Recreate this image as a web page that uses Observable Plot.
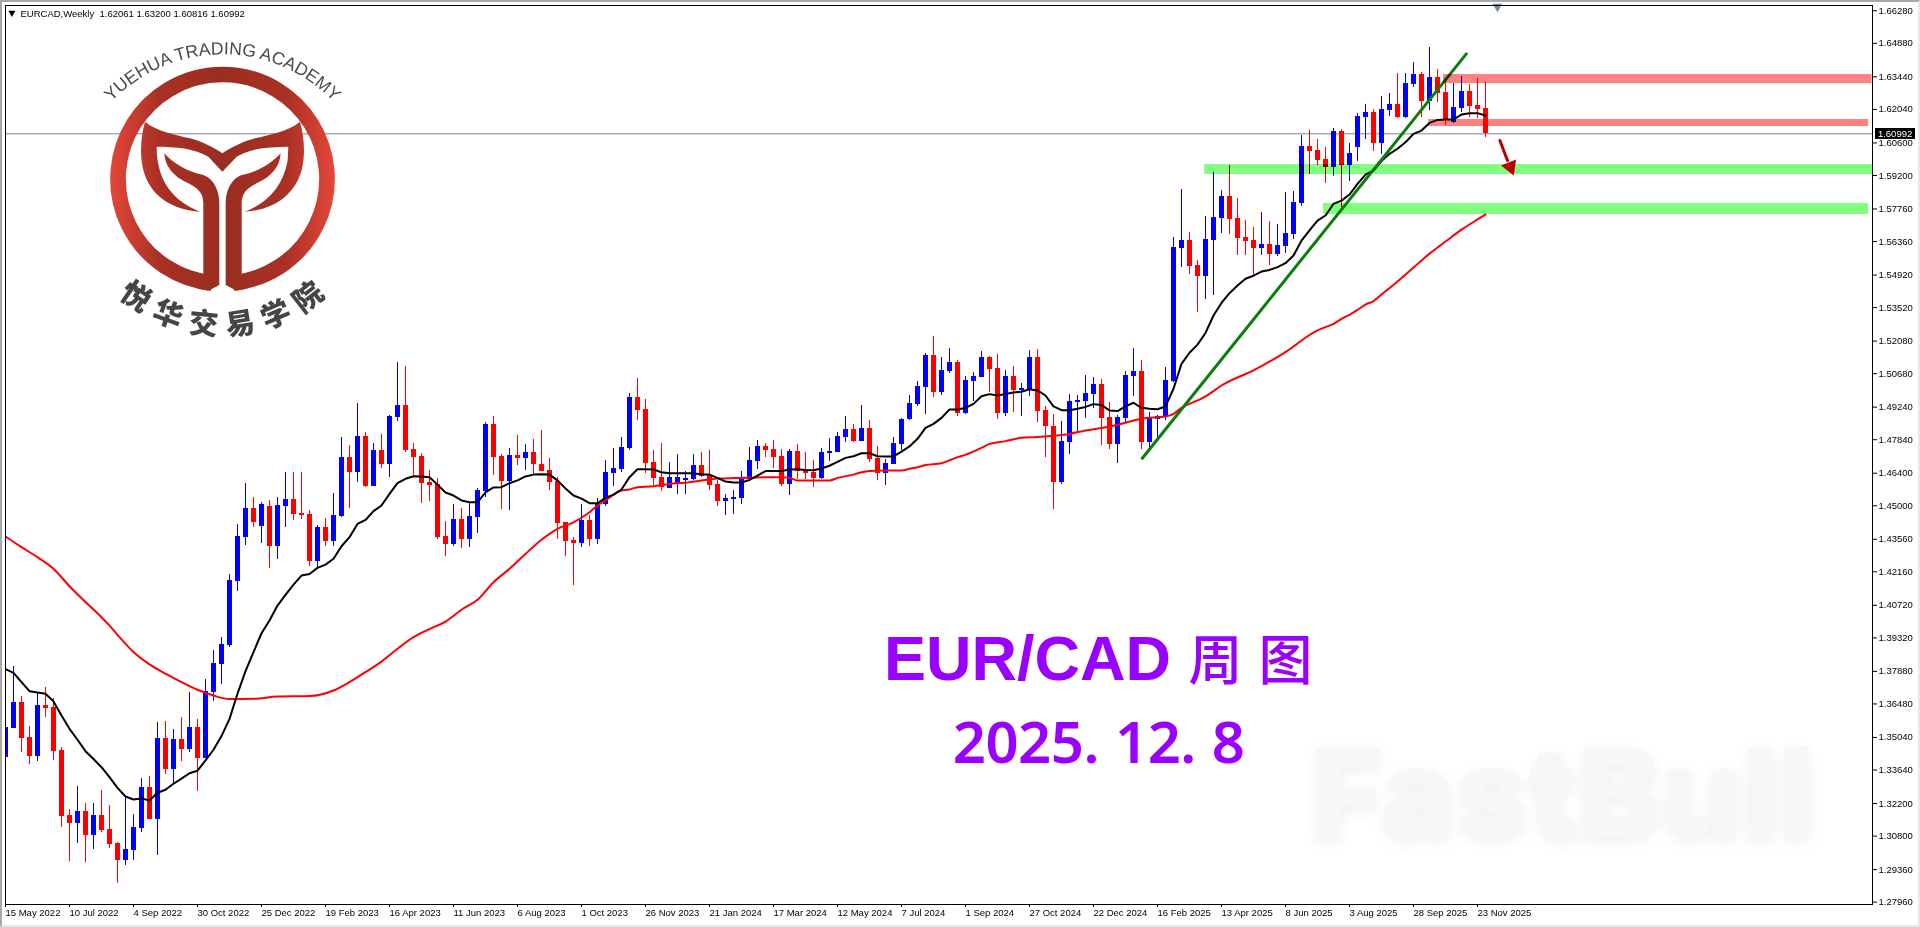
<!DOCTYPE html>
<html>
<head>
<meta charset="utf-8">
<script src="https://cdn.jsdelivr.net/npm/d3@7"></script>
<script src="https://cdn.jsdelivr.net/npm/@observablehq/plot@0.6"></script>
<style>
html,body{margin:0;padding:0;background:#fff;overflow:hidden}
#chart{position:relative;width:1920px;height:927px}
#chart svg{display:block}
#edge{position:absolute;left:0;top:0;width:1920px;height:927px;box-sizing:border-box;pointer-events:none;border-top:2px solid #a8a8a8;border-left:2px solid #a8a8a8;border-right:2px solid #e8e8e8;border-bottom:2px solid #e8e8e8}
</style>
</head>
<body>
<div id="chart"><div id="edge"></div></div>
<script>
const opens=[1.3419,1.3544,1.3654,1.3504,1.3424,1.3641,1.3633,1.3448,1.3168,1.3136,
1.3186,1.3084,1.3168,1.3108,1.3048,1.2976,1.3019,1.3114,1.3289,1.3153,
1.3500,1.3368,1.3495,1.3454,1.3547,1.3415,1.3699,1.3819,1.3899,1.4176,
1.4365,1.4488,1.4412,1.4497,1.4326,1.4498,1.4527,1.4467,1.4462,1.4262,
1.4407,1.4348,1.4454,1.4707,1.4644,1.4798,1.4584,1.4738,1.4679,1.4881,
1.4931,1.4742,1.4712,1.4600,1.4591,1.4368,1.4335,1.4441,1.4356,1.4451,
1.4561,1.4849,1.4712,1.4604,1.4716,1.4705,1.4729,1.4677,1.4652,1.4604,
1.4428,1.4351,1.4339,1.4437,1.4356,1.4505,1.4640,1.4657,1.4746,1.4965,
1.4914,1.4686,1.4622,1.4576,1.4594,1.4609,1.4613,1.4673,1.4630,1.4591,
1.4518,1.4527,1.4531,1.4613,1.4692,1.4755,1.4742,1.4712,1.4591,1.4733,
1.4647,1.4644,1.4617,1.4725,1.4729,1.4794,1.4828,1.4776,1.4832,1.4703,
1.4639,1.4677,1.4763,1.4871,1.4935,1.5008,1.5146,1.4987,1.5077,1.5116,
1.4897,1.5034,1.5051,1.5137,1.5090,1.4897,1.5056,1.4996,1.4996,1.5137,
1.4910,1.4841,1.4600,1.4772,1.4944,1.4948,1.4978,1.5021,1.4879,1.4763,
1.4875,1.5056,1.5077,1.4772,1.4871,1.4879,1.5034,1.5606,1.5640,1.5533,
1.5486,1.5640,1.5735,1.5830,1.5735,1.5653,1.5640,1.5606,1.5623,1.5580,
1.5614,1.5666,1.5800,1.6045,1.6027,1.5989,1.5954,1.6109,1.5963,1.6040,
1.6169,1.6191,1.6058,1.6199,1.6225,1.6169,1.6311,1.6354,1.6238,1.6341,
1.6277,1.6149,1.6208,1.6281,1.6221,1.62061];
const highs=[1.3591,1.3809,1.3680,1.3551,1.3694,1.3719,1.3670,1.3461,1.3194,1.3293,
1.3220,1.3220,1.3276,1.3211,1.3052,1.3247,1.3173,1.3328,1.3336,1.3568,
1.3573,1.3538,1.3590,1.3697,1.3581,1.3753,1.3878,1.3934,1.4204,1.4419,
1.4596,1.4535,1.4514,1.4523,1.4535,1.4643,1.4643,1.4643,1.4480,1.4415,
1.4447,1.4553,1.4793,1.4759,1.4940,1.4815,1.4768,1.4806,1.4888,1.5116,
1.5099,1.4768,1.4725,1.4652,1.4617,1.4432,1.4505,1.4488,1.4511,1.4574,
1.4858,1.4884,1.4720,1.4746,1.4802,1.4763,1.4785,1.4824,1.4703,1.4622,
1.4429,1.4364,1.4505,1.4458,1.4531,1.4695,1.4746,1.4794,1.4983,1.5047,
1.4957,1.4738,1.4768,1.4686,1.4720,1.4647,1.4720,1.4729,1.4738,1.4609,
1.4548,1.4566,1.4647,1.4751,1.4781,1.4768,1.4781,1.4742,1.4742,1.4763,
1.4729,1.4695,1.4746,1.4789,1.4815,1.4884,1.4849,1.4931,1.4867,1.4755,
1.4699,1.4794,1.4875,1.4974,1.5034,1.5155,1.5228,1.5137,1.5176,1.5125,
1.5056,1.5073,1.5163,1.5142,1.5150,1.5082,1.5099,1.5026,1.5168,1.5172,
1.4927,1.4892,1.4862,1.4978,1.4974,1.5060,1.5051,1.5043,1.4944,1.4888,
1.5077,1.5176,1.5125,1.4901,1.4890,1.5094,1.5653,1.5860,1.5675,1.5554,
1.5744,1.5933,1.5855,1.5963,1.5821,1.5726,1.5696,1.5761,1.5722,1.5709,
1.5847,1.5851,1.6092,1.6113,1.6075,1.6040,1.6122,1.6118,1.6058,1.6187,
1.6225,1.6204,1.6260,1.6272,1.6358,1.6358,1.6406,1.6363,1.6470,1.6376,
1.6328,1.6315,1.6346,1.6311,1.6337,1.63200];
const lows=[1.3391,1.3544,1.3441,1.3389,1.3402,1.3591,1.3405,1.3118,1.2972,1.3050,
1.2968,1.3022,1.3095,1.3027,1.2878,1.2955,1.2976,1.3097,1.3153,1.2998,
1.3346,1.3305,1.3402,1.3441,1.3273,1.3415,1.3660,1.3733,1.3892,1.4133,
1.4331,1.4408,1.4339,1.4230,1.4270,1.4408,1.4437,1.4441,1.4240,1.4236,
1.4326,1.4326,1.4451,1.4490,1.4601,1.4579,1.4584,1.4662,1.4623,1.4864,
1.4730,1.4630,1.4511,1.4520,1.4356,1.4283,1.4326,1.4318,1.4322,1.4382,
1.4537,1.4630,1.4485,1.4480,1.4673,1.4652,1.4636,1.4647,1.4566,1.4355,
1.4283,1.4159,1.4322,1.4326,1.4335,1.4498,1.4584,1.4644,1.4738,1.4867,
1.4639,1.4587,1.4561,1.4576,1.4548,1.4548,1.4609,1.4623,1.4566,1.4497,
1.4458,1.4462,1.4505,1.4613,1.4656,1.4708,1.4660,1.4583,1.4544,1.4613,
1.4613,1.4579,1.4613,1.4690,1.4729,1.4772,1.4772,1.4776,1.4686,1.4609,
1.4587,1.4677,1.4738,1.4867,1.4927,1.4892,1.4965,1.4974,1.5070,1.4884,
1.4892,1.4948,1.5051,1.4987,1.4871,1.4884,1.4901,1.4884,1.4970,1.4858,
1.4708,1.4484,1.4591,1.4720,1.4819,1.4875,1.4918,1.4759,1.4742,1.4682,
1.4858,1.4970,1.4742,1.4746,1.4795,1.4867,1.5030,1.5524,1.5494,1.5331,
1.5387,1.5404,1.5671,1.5666,1.5576,1.5576,1.5490,1.5576,1.5533,1.5572,
1.5585,1.5645,1.5787,1.5924,1.5963,1.5886,1.5916,1.5784,1.5894,1.5980,
1.6075,1.6023,1.6010,1.6174,1.6165,1.6165,1.6298,1.6169,1.6199,1.6234,
1.6135,1.6145,1.6191,1.6169,1.6165,1.60816];
const closes=[1.3545,1.3654,1.3501,1.3424,1.3641,1.3630,1.3445,1.3166,1.3136,1.3186,
1.3084,1.3168,1.3105,1.3045,1.2976,1.3022,1.3117,1.3289,1.3153,1.3500,
1.3368,1.3495,1.3454,1.3547,1.3415,1.3700,1.3822,1.3904,1.4179,1.4368,
1.4488,1.4429,1.4505,1.4326,1.4501,1.4527,1.4464,1.4458,1.4262,1.4407,
1.4348,1.4458,1.4707,1.4644,1.4798,1.4583,1.4738,1.4679,1.4884,1.4931,
1.4739,1.4709,1.4597,1.4589,1.4365,1.4335,1.4441,1.4356,1.4454,1.4566,
1.4849,1.4709,1.4606,1.4716,1.4705,1.4729,1.4679,1.4647,1.4600,1.4425,
1.4348,1.4339,1.4437,1.4356,1.4508,1.4643,1.4660,1.4751,1.4965,1.4911,
1.4682,1.4619,1.4580,1.4622,1.4622,1.4617,1.4673,1.4627,1.4589,1.4518,
1.4531,1.4536,1.4613,1.4695,1.4755,1.4738,1.4708,1.4591,1.4733,1.4649,
1.4639,1.4617,1.4729,1.4733,1.4798,1.4828,1.4776,1.4832,1.4699,1.4639,
1.4682,1.4768,1.4871,1.4940,1.5013,1.5146,1.4987,1.5082,1.5116,1.4897,
1.5039,1.5056,1.5137,1.5086,1.4897,1.5056,1.4996,1.5004,1.5137,1.4905,
1.4841,1.4600,1.4776,1.4948,1.4953,1.4983,1.5021,1.4875,1.4763,1.4879,
1.5060,1.5077,1.4772,1.4875,1.4884,1.5039,1.5610,1.5640,1.5530,1.5486,
1.5645,1.5739,1.5830,1.5731,1.5649,1.5636,1.5606,1.5623,1.5580,1.5619,
1.5671,1.5804,1.6045,1.6023,1.5984,1.5954,1.6109,1.5963,1.6015,1.6174,
1.6191,1.6058,1.6204,1.6225,1.6169,1.6315,1.6354,1.6238,1.6341,1.6272,
1.6162,1.6212,1.6281,1.6217,1.6204,1.60992];
const fastMA=[1.3798,1.3782,1.3742,1.3703,1.3697,1.3692,1.3659,1.3598,1.3541,1.3494,
1.3445,1.3411,1.3376,1.3333,1.3287,1.3250,1.3237,1.3242,1.3233,1.3266,
1.3279,1.3305,1.3327,1.3350,1.3361,1.3405,1.3451,1.3510,1.3584,1.3692,
1.3789,1.3871,1.3952,1.4007,1.4071,1.4117,1.4161,1.4200,1.4207,1.4233,
1.4247,1.4272,1.4326,1.4365,1.4422,1.4439,1.4477,1.4501,1.4551,1.4597,
1.4616,1.4627,1.4626,1.4623,1.4591,1.4557,1.4544,1.4523,1.4515,1.4515,
1.4558,1.4579,1.4580,1.4597,1.4609,1.4626,1.4634,1.4636,1.4634,1.4609,
1.4574,1.4544,1.4531,1.4511,1.4511,1.4534,1.4548,1.4570,1.4623,1.4657,
1.4657,1.4656,1.4644,1.4640,1.4640,1.4640,1.4640,1.4634,1.4634,1.4620,
1.4604,1.4600,1.4600,1.4611,1.4630,1.4649,1.4649,1.4649,1.4656,1.4657,
1.4654,1.4653,1.4660,1.4672,1.4689,1.4706,1.4713,1.4726,1.4726,1.4713,
1.4712,1.4712,1.4733,1.4755,1.4788,1.4835,1.4852,1.4878,1.4914,1.4914,
1.4921,1.4938,1.4971,1.4980,1.4974,1.4981,1.4987,1.4990,1.5001,1.4996,
1.4974,1.4927,1.4911,1.4911,1.4917,1.4925,1.4937,1.4933,1.4910,1.4907,
1.4927,1.4943,1.4921,1.4917,1.4915,1.4927,1.5003,1.5110,1.5158,1.5193,
1.5243,1.5318,1.5372,1.5414,1.5447,1.5476,1.5489,1.5507,1.5514,1.5526,
1.5543,1.5576,1.5640,1.5684,1.5726,1.5748,1.5798,1.5812,1.5838,1.5884,
1.5924,1.5941,1.5982,1.6013,1.6035,1.6063,1.6099,1.6113,1.6146,1.6159,
1.6161,1.6161,1.6182,1.6188,1.6188,1.6178];
const slowMABars=[0,2,4,6,8,10,12,13,14,16,18,20,22,24,26,28,31,34,38,41,43,45,47,49,51,53,55,57,59,61,63,65,67,69,71,73,74,75,77,78,79,81,83,85,87,89,91,93,95,97,98,99,101,103,104,106,107,108,110,112,113,114,115,117,118,119,120,122,123,125,127,129,131,133,135,137,139,141,142,144,145,146,147,149,150,151,152,156,160,164,165,166,167,168,169,170,171,172,174,176,178,180,182,184,185];
const slowMA=[1.4368,1.4322,1.4279,1.4229,1.4154,1.4086,1.4021,1.3985,1.3945,1.3871,1.3818,1.3778,1.3742,1.3709,1.3684,1.3669,1.3670,1.3680,1.3682,1.3706,1.3742,1.3785,1.3830,1.3885,1.3935,1.3970,1.4002,1.4053,1.4096,1.4171,1.4229,1.4293,1.4354,1.4401,1.4429,1.4472,1.4501,1.4523,1.4566,1.4570,1.4580,1.4584,1.4594,1.4599,1.4609,1.4617,1.4619,1.4620,1.4623,1.4623,1.4620,1.4609,1.4609,1.4609,1.4620,1.4634,1.4644,1.4650,1.4652,1.4652,1.4659,1.4666,1.4675,1.4683,1.4695,1.4709,1.4719,1.4749,1.4766,1.4778,1.4792,1.4796,1.4801,1.4809,1.4824,1.4834,1.4848,1.4867,1.4874,1.4881,1.4884,1.4895,1.4921,1.4953,1.4970,1.4993,1.5017,1.5082,1.5161,1.5254,1.5268,1.5282,1.5304,1.5321,1.5342,1.5365,1.5380,1.5408,1.5464,1.5524,1.5584,1.5636,1.5687,1.5731,1.5752];
const priceTicks=[1.6628,1.6488,1.6344,1.6204,1.6060,1.5920,1.5776,1.5636,1.5492,1.5352,1.5208,1.5068,1.4924,1.4784,1.4640,1.4500,1.4356,1.4216,1.4072,1.3932,1.3788,1.3648,1.3504,1.3364,1.3220,1.3080,1.2936,1.2796];
const dateLabels=["15 May 2022","10 Jul 2022","4 Sep 2022","30 Oct 2022","25 Dec 2022","19 Feb 2023","16 Apr 2023","11 Jun 2023","6 Aug 2023","1 Oct 2023","26 Nov 2023","21 Jan 2024","17 Mar 2024","12 May 2024","7 Jul 2024","1 Sep 2024","27 Oct 2024","22 Dec 2024","16 Feb 2025","13 Apr 2025","8 Jun 2025","3 Aug 2025","28 Sep 2025","23 Nov 2025"];
const lastClose=1.60992;
const header="EURCAD,Weekly  1.62061 1.63200 1.60816 1.60992";
const zones=[
 {b0:179.75,b1:233.3,p0:1.6354,p1:1.63155,c:"#ff8080"},
 {b0:177.9,b1:232.9,p0:1.61607,p1:1.61306,c:"#ff8080"},
 {b0:149.9,b1:233.375,p0:1.59672,p1:1.59242,c:"#80ff80"},
 {b0:164.75,b1:232.9,p0:1.57995,p1:1.57522,c:"#80ff80"}
];
const trendBars=[142.1,182.6], trendPrices=[1.47045,1.6443];
const arrowBars=[186.8,187.75], arrowPrices=[1.60704,1.59844];

const bars=opens.map((o,i)=>({i,o,h:highs[i],l:lows[i],c:closes[i],m:fastMA[i],col:closes[i]>=o?"#0000ff":"#ff0000"}));
const slow=slowMABars.map((i,k)=>({i,v:slowMA[k]}));
const trend=trendBars.map((i,k)=>({i,v:trendPrices[k]}));
const arrow=arrowBars.map((i,k)=>({i,v:arrowPrices[k]}));
const sansF="'Liberation Sans',Arial,sans-serif";

function logo(){
 const g=d3.create("svg:g").attr("transform","translate(60,0) scale(0.33333)");
 g.html(`
 <defs><linearGradient id="lg" gradientUnits="userSpaceOnUse" x1="150" x2="825" y1="0" y2="0">
 <stop offset="0" stop-color="#e4473a"/><stop offset="0.22" stop-color="#a93024"/><stop offset="0.5" stop-color="#992e20"/><stop offset="0.78" stop-color="#a93024"/><stop offset="1" stop-color="#e4473a"/></linearGradient>
 <path id="arcTop" d="M150 310 A461 461 0 0 1 825 310"/>
 <path id="arcBot" d="M157 869 A468 468 0 0 0 817 869"/></defs>
 <path d="M455 848.8 A313.5 313.5 0 1 1 520 848.8" fill="none" stroke="url(#lg)" stroke-width="47"/>
 <path fill="url(#lg)" d="M255 365 C290 395 350 405 390 415 C430 425 465 445 487 460 C510 445 545 425 585 415 C625 405 685 395 720 365 C735 420 735 470 725 510 C705 585 640 630 555 635 C620 610 670 560 683 480 L685 440 C630 440 570 445 530 470 L487 515 L445 470 C405 445 345 440 290 440 C290 520 320 595 420 635 C340 630 270 590 250 510 C240 470 240 420 255 365 Z"/>
 <path fill="url(#lg)" d="M313 460 C340 490 380 515 430 525 C460 535 478 570 478 610 L478 855 L445 872 L415 866 L430 820 L430 610 C430 580 415 565 385 550 C340 530 315 500 313 460 Z"/>
 <path fill="url(#lg)" transform="translate(975,0) scale(-1,1)" d="M313 460 C340 490 380 515 430 525 C460 535 478 570 478 610 L478 855 L445 872 L415 866 L430 820 L430 610 C430 580 415 565 385 550 C340 530 315 500 313 460 Z"/>
 <text font-family="${sansF}" font-size="53" fill="#4a4a4a"><textPath href="#arcTop" startOffset="50%" text-anchor="middle">YUEHUA TRADING ACADEMY</textPath></text>
 <text font-family="'Noto Sans CJK SC'" font-weight="900" font-size="88" letter-spacing="30" fill="#454545"><textPath href="#arcBot" startOffset="52%" text-anchor="middle">悦华交易学院</textPath></text>`);
 return g.node();
}

const plot=Plot.plot({
 width:1920,height:927,
 marginLeft:5,marginRight:48,marginTop:5,marginBottom:23,
 style:{background:"#fff",fontFamily:sansF,fontSize:"9px",color:"#000"},
 x:{type:"linear",domain:[0,233.375]},
 y:{type:"linear",domain:[1.27858,1.66508]},
 marks:[
  Plot.text(["FastBull"],{x:[163.1],y:[1.3074],textAnchor:"start",lineAnchor:"bottom",fill:"#f7f7f7",fontFamily:"Inter",fontWeight:900,fontSize:124}),
  Plot.ruleY([lastClose],{stroke:"#778899"}),
  logo,
  Plot.ruleX(bars,{x:"i",y1:"l",y2:"h",stroke:"col",strokeWidth:1,clip:true,shapeRendering:"crispEdges"}),
  Plot.ruleX(bars,{x:"i",y1:"o",y2:"c",stroke:"col",strokeWidth:5,clip:true,shapeRendering:"crispEdges"}),
  Plot.line(slow,{x:"i",y:"v",stroke:"#ff0000",strokeWidth:2,curve:"monotone-x",clip:true}),
  Plot.line(bars,{x:"i",y:"m",stroke:"#000",strokeWidth:2,curve:"linear",clip:true}),
  Plot.line(trend,{x:"i",y:"v",stroke:"#0b7d0b",strokeWidth:3}),
  Plot.rect(zones,{x1:"b0",x2:"b1",y1:"p0",y2:"p1",fill:"c",mixBlendMode:"multiply",inset:0}),
  Plot.line(arrow,{x:"i",y:"v",stroke:"#bb0000",strokeWidth:3}),
  Plot.dot([{i:188.1,v:1.59573}],{x:"i",y:"v",symbol:"triangle",r:6,fill:"#bb0000",rotate:158}),
  Plot.dot([{i:186.5,v:1.6646}],{x:"i",y:"v",symbol:"triangle",r:3.6,fill:"#778899",rotate:180}),
  Plot.dot([{i:0.8,v:1.6619}],{x:"i",y:"v",symbol:"triangle",r:2.6,fill:"#000",rotate:180}),
  Plot.text([header],{x:[1.875],y:[1.66035],textAnchor:"start",lineAnchor:"bottom",fill:"#000",fontSize:9.5}),
  Plot.text(["EUR/CAD 周图"],{x:[109.8],y:[1.3753],textAnchor:"start",lineAnchor:"bottom",fill:"#9900ff",fontWeight:700,fontSize:63,fontFamily:sansF}),
  Plot.text(["2025.12.8"],{x:[118.4],y:[1.3396],textAnchor:"start",lineAnchor:"bottom",fill:"#9900ff",fontWeight:600,fontSize:58,fontFamily:"'Noto Sans'"}),
  Plot.axisY({anchor:"right",ticks:priceTicks,tickFormat:d3.format(".5f"),tickSize:4,tickPadding:2,label:null,fontSize:9.5,stroke:"#000"}),
  Plot.axisX({anchor:"bottom",ticks:dateLabels.map((d,k)=>k*8),tickFormat:i=>dateLabels[i/8],tickSize:3,tickPadding:2,textAnchor:"start",label:null,fontSize:9.5,stroke:"#000"}),
  Plot.rect([{x1:233.75,x2:238.75,y1:1.6122,y2:1.6075}],{x1:"x1",x2:"x2",y1:"y1",y2:"y2",fill:"#000"}),
  Plot.text([lastClose],{x:[234.05],y:[lastClose],text:d=>d.toFixed(5),textAnchor:"start",fill:"#fff",fontSize:9.5}),
  Plot.frame({stroke:"#000"})
 ]
});
document.getElementById("chart").prepend(plot);

plot.querySelectorAll("text").forEach(t=>{
 const s=t.textContent;
 if(s==="EUR/CAD 周图"){
  t.textContent="";
  const NS="http://www.w3.org/2000/svg";
  const a=document.createElementNS(NS,"tspan");a.textContent="EUR/CAD ";
  const b=document.createElementNS(NS,"tspan");b.textContent="周图";
  b.setAttribute("style","font-family:'Noto Sans CJK SC';font-weight:500;font-size:54px;letter-spacing:16px");
  t.append(a,b);
 }
 if(s==="2025.12.8"){
  t.setAttribute("dx","0 0 0 0 0 16 0 0 16");
  t.style.letterSpacing="-0.5px";
 }
 if(s==="FastBull"){
  t.style.filter="drop-shadow(0 5px 7px #f0f0f0)";
 }
});
</script>
</body>
</html>
